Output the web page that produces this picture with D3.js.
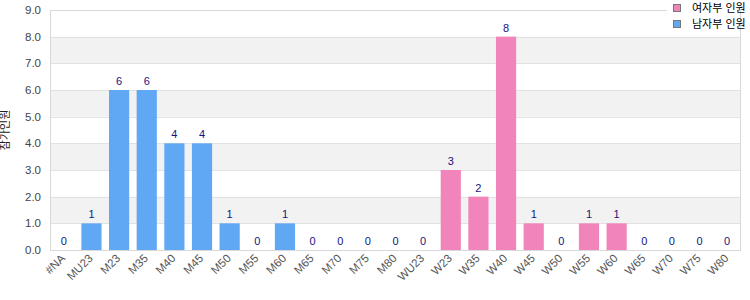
<!DOCTYPE html>
<html>
<head>
<meta charset="utf-8">
<title>chart</title>
<style>
  body { margin: 0; background: #fff; }
  text { font-family: "Liberation Sans", Arial, "Noto Sans CJK KR", sans-serif; }
</style>
</head>
<body>
<svg id="chart" width="750" height="300"></svg>
<script src="https://d3js.org/d3.v7.min.js"></script>
<script>
// categories and values
var categories = ["#NA", "MU23", "M23", "M35", "M40", "M45", "M50", "M55", "M60", "M65", "M70", "M75", "M80",
                  "WU23", "W23", "W35", "W40", "W45", "W50", "W55", "W60", "W65", "W70", "W75", "W80"];
var maleValues   = [0, 1, 6, 6, 4, 4, 1, 0, 1, 0, 0, 0, 0, null, null, null, null, null, null, null, null, null, null, null, null];
var femaleValues = [null, null, null, null, null, null, null, null, null, null, null, null, null, 0, 3, 2, 8, 1, 0, 1, 1, 0, 0, 0, 0];
var seriesNames = ["여자부 인원", "남자부 인원"];
var yTicks = [0, 1, 2, 3, 4, 5, 6, 7, 8, 9];
var yTitle = "참가인원";

var svg = d3.select('#chart');
var pLeft = 50, pRight = 741, pTop = 10, pBottom = 250;

var x = d3.scaleBand().domain(categories).range([pLeft, pRight]).paddingInner(0.27).paddingOuter(0.135);
var y = d3.scaleLinear().domain([0, 9]).range([pBottom, pTop]);

// alternating bands
svg.selectAll('.band')
  .data(yTicks.filter(function(d) { return d % 2 == 1 && d < 9; }))
  .enter().append('rect')
  .attr('x', pLeft).attr('width', pRight - pLeft)
  .attr('y', function(d) { return y(d + 1); })
  .attr('height', function(d) { return y(d) - y(d + 1); })
  .attr('fill', '#f2f2f2');

// grid lines
svg.selectAll('.grid')
  .data(yTicks)
  .enter().append('line')
  .attr('x1', pLeft).attr('x2', pRight)
  .attr('y1', function(d) { return Math.round(y(d)) + 0.5; })
  .attr('y2', function(d) { return Math.round(y(d)) + 0.5; })
  .attr('stroke', '#e2e2e2');

// frame
svg.append('rect')
  .attr('x', pLeft + 0.5).attr('y', pTop + 0.5)
  .attr('width', pRight - pLeft - 1).attr('height', pBottom - pTop)
  .attr('fill', 'none').attr('stroke', '#d9d9d9');

// y tick labels
svg.selectAll('.ytick')
  .data(yTicks)
  .enter().append('text')
  .attr('x', 41).attr('y', function(d) { return y(d) + 4; })
  .attr('text-anchor', 'end')
  .attr('font-size', 11.5).attr('fill', '#444')
  .text(function(d) { return d3.format('.1f')(d); });

svg.append('text')
  .attr('transform', 'translate(9,' + ((pTop + pBottom) / 2) + ') rotate(-90)')
  .attr('text-anchor', 'middle')
  .attr('font-size', 11).attr('fill', '#222')
  .text(yTitle);

// x tick labels
svg.selectAll('.xtick')
  .data(categories)
  .enter().append('text')
  .attr('transform', function(d) { return 'translate(' + (x(d) + x.bandwidth() / 2 + 2) + ',259) rotate(-45)'; })
  .attr('text-anchor', 'end')
  .attr('font-size', 11.5).attr('fill', '#555')
  .text(function(d) { return d; });

function draw_series(vals, color) {
  var data = categories.map(function(c, i) { return {cat: c, value: vals[i]}; })
    .filter(function(d) { return d.value !== null; });

  svg.selectAll(null)
    .data(data.filter(function(d) { return d.value > 0; }))
    .enter().append('rect')
    .attr('x', function(d) { return x(d.cat); })
    .attr('width', x.bandwidth())
    .attr('y', function(d) { return y(d.value); })
    .attr('height', function(d) { return y(0) - y(d.value); })
    .attr('fill', color);

  svg.selectAll(null)
    .data(data)
    .enter().append('text')
    .attr('x', function(d) { return x(d.cat) + x.bandwidth() / 2; })
    .attr('y', function(d) { return y(d.value) - 5; })
    .attr('text-anchor', 'middle')
    .attr('font-size', 11).attr('fill', '#14147f')
    .text(function(d) { return d.value; });
}
draw_series(maleValues, '#60a8f4');
draw_series(femaleValues, '#f284bc');

// legend
svg.append('rect').attr('x', 667).attr('y', 0).attr('width', 70).attr('height', 32).attr('fill', '#fff');
var legendColors = ['#f284bc', '#60a8f4'];
var lg = svg.selectAll('.legend')
  .data(seriesNames)
  .enter().append('g')
  .attr('transform', function(d, i) { return 'translate(673,' + (4 + i * 16) + ')'; });
lg.append('rect')
  .attr('x', 0.5).attr('y', 0.5).attr('width', 7).attr('height', 7)
  .attr('fill', function(d, i) { return legendColors[i]; })
  .attr('stroke', '#777');
lg.append('text')
  .attr('x', 19).attr('y', 8)
  .attr('font-size', 11).attr('fill', '#000')
  .text(function(d) { return d; });
</script>
</body>
</html>
